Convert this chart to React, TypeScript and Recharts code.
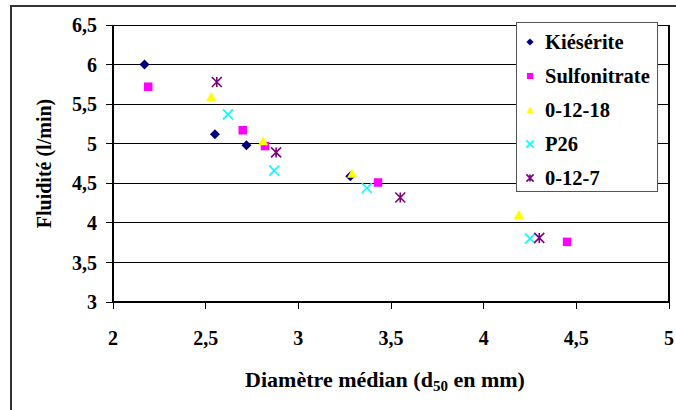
import React from 'react';
import { ScatterChart, Scatter, XAxis, YAxis, CartesianGrid, ReferenceLine, Label } from 'recharts';

// d50 (mm) vs fluidité (l/min)
const kieserite = [
  { x: 2.17, y: 6.0 },
  { x: 2.55, y: 5.12 },
  { x: 2.72, y: 4.98 },
  { x: 3.28, y: 4.59 },
];
const sulfonitrate = [
  { x: 2.19, y: 5.72 },
  { x: 2.7, y: 5.17 },
  { x: 2.82, y: 4.97 },
  { x: 3.43, y: 4.51 },
  { x: 4.45, y: 3.76 },
];
const npk01218 = [
  { x: 2.53, y: 5.59 },
  { x: 2.81, y: 5.03 },
  { x: 3.29, y: 4.62 },
  { x: 4.19, y: 4.1 },
];
const p26 = [
  { x: 2.62, y: 5.37 },
  { x: 2.87, y: 4.66 },
  { x: 3.37, y: 4.44 },
  { x: 4.25, y: 3.8 },
];
const npk0127 = [
  { x: 2.56, y: 5.78 },
  { x: 2.88, y: 4.89 },
  { x: 3.55, y: 4.32 },
  { x: 4.3, y: 3.81 },
];

const xTicks = [2, 2.5, 3, 3.5, 4, 4.5, 5];
const yTicks = [3, 3.5, 4, 4.5, 5, 5.5, 6, 6.5];

type Kind = 'diamond' | 'square' | 'triangle' | 'x' | 'star';

const series: { name: string; data: { x: number; y: number }[]; color: string; kind: Kind }[] = [
  { name: 'Kiésérite', data: kieserite, color: '#000080', kind: 'diamond' },
  { name: 'Sulfonitrate', data: sulfonitrate, color: '#ff00ff', kind: 'square' },
  { name: '0-12-18', data: npk01218, color: '#ffff00', kind: 'triangle' },
  { name: 'P26', data: p26, color: '#00ffff', kind: 'x' },
  { name: '0-12-7', data: npk0127, color: '#800080', kind: 'star' },
];

const FONT = 'Liberation Serif, Times New Roman, serif';

const Marker = ({ kind, color, cx, cy, s }: { kind: Kind; color: string; cx: number; cy: number; s: number }) => {
  switch (kind) {
    case 'diamond':
      return <polygon points={`${cx},${cy - s} ${cx + s},${cy} ${cx},${cy + s} ${cx - s},${cy}`} fill={color} />;
    case 'square':
      return <rect x={cx - s * 0.85} y={cy - s * 0.85} width={s * 1.7} height={s * 1.7} fill={color} />;
    case 'triangle':
      return <polygon points={`${cx},${cy - s} ${cx + s},${cy + s * 0.8} ${cx - s},${cy + s * 0.8}`} fill={color} />;
    case 'x':
      return (
        <path
          d={`M${cx - s},${cy - s}L${cx + s},${cy + s}M${cx + s},${cy - s}L${cx - s},${cy + s}`}
          stroke={color}
          strokeWidth={1.6}
          fill="none"
        />
      );
    default:
      return (
        <path
          d={`M${cx - s},${cy - s}L${cx + s},${cy + s}M${cx + s},${cy - s}L${cx - s},${cy + s}M${cx},${cy - s}L${cx},${cy + s}`}
          stroke={color}
          strokeWidth={1.6}
          fill="none"
        />
      );
  }
};

const fmt = (v: number) => String(v).replace('.', ',');

const App: React.FC = () => {
  return (
    <div
      style={{
        position: 'absolute',
        left: 0,
        top: 0,
        width: 676,
        height: 410,
        overflow: 'hidden',
        background: '#fff',
        fontFamily: FONT,
      }}
    >
      <div
        style={{
          position: 'absolute',
          left: 10,
          top: 5,
          width: 720,
          height: 500,
          border: '2px solid #333',
        }}
      />
      <ScatterChart
        width={676}
        height={410}
        margin={{ top: 25, right: 7, bottom: 78, left: 53 }}
        style={{ position: 'absolute', left: 0, top: 0 }}
      >
        <CartesianGrid vertical={false} stroke="#000" strokeWidth={1} shapeRendering="crispEdges" />
        <XAxis
          type="number"
          dataKey="x"
          domain={[2, 5]}
          ticks={xTicks}
          height={30}
          tickSize={7}
          tickMargin={22}
          tickFormatter={fmt}
          axisLine={{ stroke: '#000', strokeWidth: 2, shapeRendering: 'crispEdges' }}
          tickLine={{ stroke: '#000', shapeRendering: 'crispEdges' }}
          tick={{ fill: '#000', fontSize: 20, fontWeight: 700, fontFamily: FONT }}
          allowDataOverflow
        >
          <Label
            content={({ viewBox }: any) => (
              <text
                x={viewBox.x + viewBox.width / 2 - 6}
                y={387}
                textAnchor="middle"
                fill="#000"
                fontSize={22}
                fontWeight={700}
                fontFamily={FONT}
              >
                Diamètre médian (d
                <tspan fontSize={15} dy={4}>50</tspan>
                <tspan dy={-4}> en mm)</tspan>
              </text>
            )}
          />
        </XAxis>
        <YAxis
          type="number"
          dataKey="y"
          domain={[3, 6.5]}
          ticks={yTicks}
          width={60}
          tickSize={7}
          tickMargin={9}
          tickFormatter={fmt}
          axisLine={{ stroke: '#000', strokeWidth: 1.5, shapeRendering: 'crispEdges' }}
          tickLine={{ stroke: '#000', shapeRendering: 'crispEdges' }}
          tick={{ fill: '#000', fontSize: 20, fontWeight: 700, fontFamily: FONT }}
          allowDataOverflow
        >
          <Label
            content={({ viewBox }: any) => {
              const cy = viewBox.y + viewBox.height / 2;
              return (
                <text
                  x={51}
                  y={cy}
                  transform={`rotate(-90, 51, ${cy})`}
                  textAnchor="middle"
                  fill="#000"
                  fontSize={20}
                  fontWeight={700}
                  fontFamily={FONT}
                >
                  Fluidité (l/min)
                </text>
              );
            }}
          />
        </YAxis>
        <ReferenceLine x={5} stroke="#000" strokeWidth={1.5} shapeRendering="crispEdges" />
        {series.map((s) => (
          <Scatter
            key={s.name}
            name={s.name}
            data={s.data}
            fill={s.color}
            isAnimationActive={false}
            shape={(p: any) => <Marker kind={s.kind} color={s.color} cx={p.cx} cy={p.cy} s={5} />}
          />
        ))}
      </ScatterChart>
      <div
        style={{
          position: 'absolute',
          left: 516,
          top: 22,
          width: 142,
          height: 170,
          border: '1px solid #555',
          background: '#fff',
          boxSizing: 'border-box',
          paddingTop: 2,
        }}
      >
        {series.map((s) => (
          <div key={s.name} style={{ display: 'flex', alignItems: 'center', height: 34 }}>
            <svg width={12} height={12} style={{ marginLeft: 7, marginRight: 9 }}>
              <Marker kind={s.kind} color={s.color} cx={6} cy={6} s={3.6} />
            </svg>
            <span style={{ fontSize: 20.5, fontWeight: 700, color: '#000', whiteSpace: 'nowrap' }}>{s.name}</span>
          </div>
        ))}
      </div>
    </div>
  );
};

export default App;
